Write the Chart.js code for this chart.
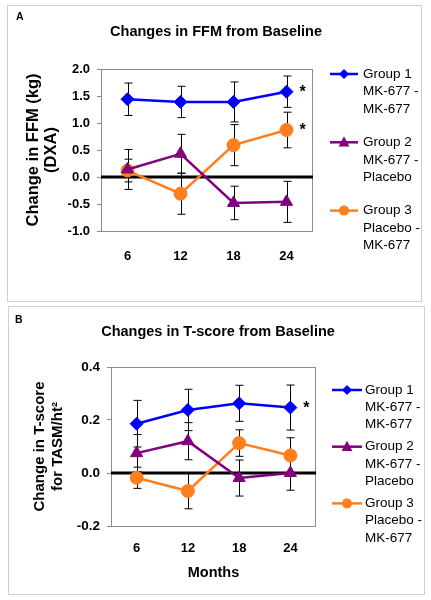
<!DOCTYPE html>
<html>
<head>
<meta charset="utf-8">
<title>Changes from Baseline</title>
<script src="https://cdn.jsdelivr.net/npm/chart.js@4.4.1/dist/chart.umd.min.js"></script>
<style>
  body { margin: 0; background: #fff; }
  .panel { position: absolute; border: 1px solid #cfcfcf; box-sizing: border-box; }
  #panel-a { left: 7px; top: 5px; width: 415px; height: 297px; }
  #panel-b { left: 8px; top: 306px; width: 417px; height: 289px; }
  canvas { display: block; }
</style>
</head>
<body>
<div class="panel" id="panel-a"><canvas id="ffm-chart" width="413" height="295"></canvas></div>
<div class="panel" id="panel-b"><canvas id="tscore-chart" width="415" height="287"></canvas></div>
<script>
// categories and legend text
const months = ['6', '12', '18', '24'];
const groupNames = ['Group 1', 'Group 2', 'Group 3'];
const groupTreatments = [['MK-677 -', 'MK-677'], ['MK-677 -', 'Placebo'], ['Placebo -', 'MK-677']];

// panel A - change in FFM (kg), mean and SE
const ffmGroup1 = [1.44, 1.39, 1.39, 1.58];
const ffmGroup2 = [0.14, 0.43, -0.48, -0.46];
const ffmGroup3 = [0.12, -0.31, 0.59, 0.87];
const ffmErr1 = [0.30, 0.29, 0.37, 0.29];
const ffmErr2 = [0.37, 0.36, 0.31, 0.38];
const ffmErr3 = [0.21, 0.38, 0.38, 0.33];
const ffmStars = [true, false, true];
const ffmTicks = { min: -1.0, max: 2.0, step: 0.5 };

// panel B - change in T-score for TASM/ht2
const tGroup1 = [0.186, 0.238, 0.263, 0.247];
const tGroup2 = [0.075, 0.120, -0.019, 0.000];
const tGroup3 = [-0.018, -0.068, 0.113, 0.066];
const tErr1 = [0.088, 0.078, 0.068, 0.085];
const tErr2 = [0.070, 0.070, 0.068, 0.065];
const tErr3 = [0.040, 0.067, 0.050, 0.067];
const tStars = [true, false, false];
const tTicks = { min: -0.2, max: 0.4, step: 0.2 };

const colors = ['#0000ff', '#800080', '#ff7f1f'];
const markers = ['rectRot', 'triangle', 'circle'];
const FONT = '"Liberation Sans", Arial, Helvetica, sans-serif';
Chart.defaults.font.family = FONT;
Chart.defaults.color = '#000';

function drawMarker(ctx, style, r, x, y) {
    ctx.beginPath();
    if (style === 'rectRot') {
        ctx.moveTo(x, y - r); ctx.lineTo(x + r, y); ctx.lineTo(x, y + r); ctx.lineTo(x - r, y);
    } else if (style === 'triangle') {
        ctx.moveTo(x, y - r); ctx.lineTo(x + r * 0.9, y + r * 0.7); ctx.lineTo(x - r * 0.9, y + r * 0.7);
    } else {
        ctx.arc(x, y, r, 0, Math.PI * 2);
    }
    ctx.closePath();
    ctx.fill();
}

// plot frame, zero line, error bars, titles, legend, asterisks
const decor = {
    id: 'decor',
    beforeDatasetsDraw(chart, args, opts) {
        const { ctx, chartArea: a, scales: { x, y } } = chart;
        ctx.save();
        ctx.strokeStyle = '#8c8c8c';
        ctx.lineWidth = 1;
        ctx.strokeRect(Math.round(a.left) + 0.5, Math.round(a.top) + 0.5, Math.round(a.width) - 1, Math.round(a.height));
        const y0 = y.getPixelForValue(0);
        ctx.strokeStyle = '#000';
        ctx.lineWidth = 3;
        ctx.beginPath(); ctx.moveTo(a.left, y0); ctx.lineTo(a.right, y0); ctx.stroke();
        ctx.lineWidth = 1;
        chart.data.datasets.forEach(ds => {
            ds.data.forEach((v, i) => {
                const px = Math.round(x.getPixelForValue(i)) + 0.5;
                const top = y.getPixelForValue(v + ds.errors[i]);
                const bot = y.getPixelForValue(v - ds.errors[i]);
                ctx.beginPath();
                ctx.moveTo(px, top); ctx.lineTo(px, bot);
                ctx.moveTo(px - 4, top); ctx.lineTo(px + 4, top);
                ctx.moveTo(px - 4, bot); ctx.lineTo(px + 4, bot);
                ctx.stroke();
            });
        });
        ctx.restore();
    },
    afterDraw(chart, args, opts) {
        const { ctx, scales: { x, y } } = chart;
        ctx.save();
        ctx.fillStyle = '#000';
        // panel letter
        ctx.font = 'bold 10.5px ' + FONT;
        ctx.textAlign = 'left';
        ctx.textBaseline = 'alphabetic';
        ctx.fillText(opts.letter, opts.letterX, opts.letterY);
        // title
        ctx.font = 'bold 14.5px ' + FONT;
        ctx.textAlign = 'center';
        ctx.textBaseline = 'middle';
        ctx.fillText(opts.title, opts.titleX, opts.titleY);
        // asterisks next to the last point
        ctx.font = 'bold 16px ' + FONT;
        const last = months.length - 1;
        chart.data.datasets.forEach((ds, i) => {
            if (!opts.stars[i]) return;
            ctx.fillText('*', x.getPixelForValue(last) + 16, y.getPixelForValue(ds.data[last]) + 1);
        });
        // legend
        const lg = opts.legend;
        ctx.font = '13.5px ' + FONT;
        ctx.textAlign = 'left';
        chart.data.datasets.forEach((ds, i) => {
            const gy = lg.y + i * lg.groupGap;
            ctx.strokeStyle = ds.borderColor;
            ctx.fillStyle = ds.borderColor;
            ctx.lineWidth = 2.5;
            ctx.beginPath(); ctx.moveTo(lg.x0, gy); ctx.lineTo(lg.x1, gy); ctx.stroke();
            drawMarker(ctx, ds.pointStyle, ds.pointStyle === 'triangle' ? 6 : 5, (lg.x0 + lg.x1) / 2, gy);
            ctx.fillStyle = '#000';
            [ds.label].concat(groupTreatments[i]).forEach((t, k) => {
                ctx.fillText(t, lg.textX, gy + k * lg.lineGap);
            });
        });
        ctx.restore();
    }
};

function makeDatasets(values, errors) {
    return values.map((vals, i) => ({
        label: groupNames[i],
        data: vals,
        errors: errors[i],
        borderColor: colors[i],
        backgroundColor: colors[i],
        pointBackgroundColor: colors[i],
        pointBorderColor: colors[i],
        pointStyle: markers[i],
        pointRadius: i === 1 ? 7 : 6.5,
        pointBorderWidth: 1,
        borderWidth: 2.5,
        tension: 0
    }));
}

function makeChart(canvasId, cfg) {
    return new Chart(document.getElementById(canvasId), {
        type: 'line',
        data: { labels: months, datasets: makeDatasets(cfg.values, cfg.errors) },
        plugins: [decor],
        options: {
            responsive: false,
            animation: false,
            events: [],
            layout: { padding: cfg.padding },
            plugins: {
                legend: { display: false },
                tooltip: { enabled: false },
                title: { display: false },
                decor: cfg.decor
            },
            scales: {
                x: {
                    offset: true,
                    grid: { display: false },
                    border: { display: false },
                    ticks: { padding: cfg.xPad, font: { size: 13, weight: 'bold' } },
                    title: cfg.xTitle,
                    afterFit: s => { s.height = cfg.xHeight; }
                },
                y: {
                    min: cfg.ticks.min,
                    max: cfg.ticks.max,
                    grid: { drawOnChartArea: false, drawTicks: true, tickLength: 4, color: '#8c8c8c' },
                    border: { display: false },
                    ticks: {
                        stepSize: cfg.ticks.step,
                        padding: 7,
                        font: { size: cfg.yFont, weight: 'bold' },
                        callback: v => (Math.abs(v) < 1e-9 ? 0 : v).toFixed(1)
                    },
                    title: cfg.yTitle,
                    afterFit: s => { s.width = cfg.yWidth; }
                }
            }
        }
    });
}

makeChart('ffm-chart', {
    values: [ffmGroup1, ffmGroup2, ffmGroup3],
    errors: [ffmErr1, ffmErr2, ffmErr3],
    ticks: ffmTicks,
    padding: { left: 0, top: 63, right: 108, bottom: 30 },
    yWidth: 93,
    yFont: 13,
    xHeight: 40,
    xPad: 10,
    xTitle: { display: false },
    yTitle: {
        display: true,
        text: ['Change in FFM (kg)', '(DXA)'],
        font: { size: 16.5, weight: 'bold', lineHeight: 1.1 },
        padding: { top: 16, bottom: 0 }
    },
    decor: {
        letter: 'A', letterX: 8, letterY: 14,
        title: 'Changes in FFM from Baseline', titleX: 208, titleY: 26,
        stars: ffmStars,
        legend: { x0: 322, x1: 350, textX: 355, y: 68, groupGap: 68.3, lineGap: 17.5 }
    }
});

makeChart('tscore-chart', {
    values: [tGroup1, tGroup2, tGroup3],
    errors: [tErr1, tErr2, tErr3],
    ticks: tTicks,
    padding: { left: 0, top: 60, right: 108, bottom: 8 },
    yWidth: 102,
    yFont: 13.5,
    xHeight: 60,
    xPad: 7,
    xTitle: {
        display: true,
        text: 'Months',
        font: { size: 14.5, weight: 'bold' },
        padding: { top: 0, bottom: 4 }
    },
    yTitle: {
        display: true,
        text: ['Change in T-score', 'for TASM/ht\u00b2'],
        font: { size: 15, weight: 'bold', lineHeight: 1.2 },
        padding: { top: 22, bottom: 0 }
    },
    decor: {
        letter: 'B', letterX: 6, letterY: 16,
        title: 'Changes in T-score from Baseline', titleX: 209, titleY: 25,
        stars: tStars,
        legend: { x0: 323, x1: 353, textX: 356, y: 83, groupGap: 56.7, lineGap: 17.3 }
    }
});
</script>
</body>
</html>
